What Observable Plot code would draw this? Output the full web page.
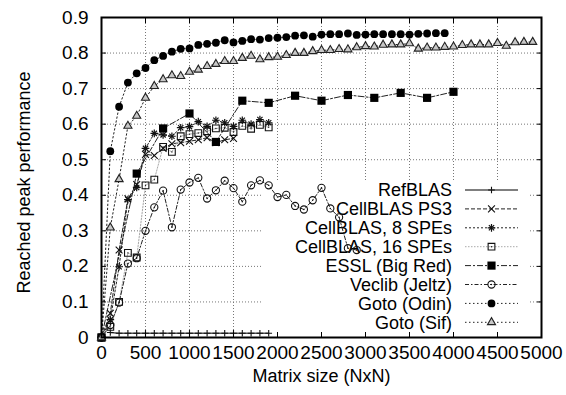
<!DOCTYPE html>
<html><head><meta charset="utf-8">
<script src="https://cdn.jsdelivr.net/npm/d3@7"></script>
<script src="https://cdn.jsdelivr.net/npm/@observablehq/plot@0.6"></script>
<style>
html,body{margin:0;padding:0;background:#fff;}
#chart{width:566px;height:395px;}
</style></head><body><div id="chart"></div>
<script>
// ---- data ----
const seriesNames = ["RefBLAS","CellBLAS PS3","CellBLAS, 8 SPEs","CellBLAS, 16 SPEs","ESSL (Big Red)","Veclib (Jeltz)","Goto (Odin)","Goto (Sif)"];

const refSize = [100,200,300,400,500,600,700,800,900,1000,1100,1200,1300,1400,1500,1600,1700,1800,1900];
const refPerf = [0.014,0.012,0.012,0.012,0.012,0.012,0.012,0.012,0.012,0.012,0.012,0.012,0.012,0.012,0.012,0.012,0.012,0.012,0.012];

const ps3Size = [0,100,200,300,400,500,600,700,800,900,1000,1100,1200,1300,1400,1500];
const ps3Perf = [0,0.068,0.246,0.39,0.43,0.515,0.512,0.532,0.545,0.548,0.552,0.556,0.562,0.548,0.556,0.56];

const spe8Size = [0,100,200,300,400,500,600,700,800,900,1000,1100,1200,1300,1400,1500,1600,1700,1800,1900];
const spe8Perf = [0,0.05,0.199,0.388,0.422,0.532,0.574,0.570,0.566,0.590,0.593,0.607,0.594,0.611,0.604,0.594,0.611,0.600,0.613,0.604];

const spe16Size = [0,100,200,300,400,500,600,700,800,900,1000,1100,1200,1300,1400,1500,1600,1700,1800,1900];
const spe16Perf = [0,0.03,0.10,0.238,0.225,0.428,0.444,0.536,0.522,0.566,0.572,0.575,0.580,0.588,0.590,0.578,0.595,0.587,0.598,0.591];

const esslSize = [0,400,700,1000,1300,1600,1900,2200,2500,2800,3100,3400,3700,4000];
const esslPerf = [0,0.461,0.588,0.630,0.550,0.666,0.660,0.680,0.666,0.682,0.674,0.688,0.674,0.691];

const veclibSize = [0,100,200,300,400,500,600,700,800,900,1000,1100,1200,1300,1400,1500,1600,1700,1800,1900,2000,2100,2200,2300,2400,2500,2600,2700,2800,2900];
const veclibPerf = [0,0.035,0.098,0.208,0.223,0.300,0.366,0.413,0.310,0.416,0.436,0.449,0.391,0.414,0.441,0.420,0.382,0.428,0.442,0.428,0.395,0.401,0.370,0.360,0.386,0.421,0.363,0.338,0.251,0.246];

const odinSize = [0,100,200,300,400,500,600,700,800,900,1000,1100,1200,1300,1400,1500,1600,1700,1800,1900,2000,2100,2200,2300,2400,2500,2600,2700,2800,2900,3000,3100,3200,3300,3400,3500,3600,3700,3800,3900];
const odinPerf = [0,0.524,0.649,0.717,0.743,0.758,0.780,0.792,0.804,0.812,0.813,0.823,0.826,0.829,0.836,0.830,0.834,0.839,0.838,0.842,0.843,0.845,0.849,0.850,0.846,0.852,0.853,0.853,0.855,0.851,0.852,0.853,0.853,0.853,0.853,0.852,0.854,0.855,0.856,0.856];

const sifSize = [0,100,200,300,400,500,600,700,800,900,1000,1100,1200,1300,1400,1500,1600,1700,1800,1900,2000,2100,2200,2300,2400,2500,2600,2700,2800,2900,3000,3100,3200,3300,3400,3500,3600,3700,3800,3900,4000,4100,4200,4300,4400,4500,4600,4700,4800,4900];
const sifPerf = [0,0.309,0.445,0.595,0.623,0.674,0.707,0.726,0.737,0.735,0.747,0.753,0.763,0.769,0.777,0.777,0.786,0.792,0.782,0.788,0.789,0.794,0.800,0.800,0.805,0.808,0.808,0.811,0.810,0.816,0.819,0.818,0.823,0.824,0.824,0.827,0.812,0.815,0.815,0.817,0.818,0.822,0.824,0.824,0.824,0.828,0.820,0.830,0.831,0.831];

const xTicks = [0,500,1000,1500,2000,2500,3000,3500,4000,4500,5000];
const yTicks = [0,0.1,0.2,0.3,0.4,0.5,0.6,0.7,0.8,0.9];
const yTickLabels = ["0","0.1","0.2","0.3","0.4","0.5","0.6","0.7","0.8","0.9"];
const xLabel = "Matrix size (NxN)";
const yLabel = "Reached peak performance";

// ---- build tables ----
const rows = (name, sizes, perfs) => sizes.map((s, i) => ({series: name, size: s, perf: perfs[i]}));
const tables = [
  rows(seriesNames[0], refSize, refPerf),
  rows(seriesNames[1], ps3Size, ps3Perf),
  rows(seriesNames[2], spe8Size, spe8Perf),
  rows(seriesNames[3], spe16Size, spe16Perf),
  rows(seriesNames[4], esslSize, esslPerf),
  rows(seriesNames[5], veclibSize, veclibPerf),
  rows(seriesNames[6], odinSize, odinPerf),
  rows(seriesNames[7], sifSize, sifPerf)
];

// ---- styles ----
const styles = [
  {line: {stroke: "#555", strokeWidth: 1.4}, markers: [{symbol: "plus", r: 2.3, fill: "none", stroke: "#111", strokeWidth: 1.1}]},
  {line: {stroke: "#222", strokeWidth: 1, strokeDasharray: "4,2"}, markers: [{symbol: "times", r: 3.2, fill: "none", stroke: "#111", strokeWidth: 1.1}]},
  {line: {stroke: "#222", strokeWidth: 1, strokeDasharray: "2,2"}, markers: [{symbol: "plus", r: 2.6, fill: "none", stroke: "#111", strokeWidth: 1.2}, {symbol: "times", r: 2.5, fill: "none", stroke: "#111", strokeWidth: 1.2}]},
  {line: {stroke: "#aaa", strokeWidth: 1, strokeDasharray: "1.5,1.5"}, markers: [{symbol: "square", r: 3.8, fill: "none", stroke: "#111", strokeWidth: 1.1}, {symbol: "circle", r: 0.7, fill: "#111", stroke: "none"}]},
  {line: {stroke: "#222", strokeWidth: 1, strokeDasharray: "6,2,2,2"}, markers: [{symbol: "square", r: 4.6, fill: "#000", stroke: "none"}]},
  {line: {stroke: "#222", strokeWidth: 1, strokeDasharray: "4,2,1.5,2"}, markers: [{symbol: "circle", r: 3.6, fill: "none", stroke: "#111", strokeWidth: 1.1}, {symbol: "circle", r: 0.7, fill: "#111", stroke: "none"}]},
  {line: {stroke: "#222", strokeWidth: 1, strokeDasharray: "1.5,2.5"}, markers: [{symbol: "circle", r: 3.9, fill: "#000", stroke: "none"}]},
  {line: {stroke: "#222", strokeWidth: 1, strokeDasharray: "1.5,2.5"}, markers: [{symbol: "triangle", r: 3.0, fill: "#c8c8c8", stroke: "#222", strokeWidth: 1.1}]}
];

const d3Sym = {plus: d3.symbolPlus, times: d3.symbolTimes, square: d3.symbolSquare, circle: d3.symbolCircle, triangle: d3.symbolTriangle};
const font = "'Liberation Sans', Arial, sans-serif";

// ---- legend (key box, as in gnuplot, drawn above grid but below data) ----
function legendMark(index, scales, values, dims) {
  const right = dims.width - dims.marginRight;
  const top = dims.marginTop;
  const bottom = dims.height - dims.marginBottom;
  const rowH = 18.9;
  const firstRow = top + 173;
  const g = d3.create("svg:g");
  g.append("rect")
    .attr("x", right - 279).attr("y", firstRow - 10)
    .attr("width", 268).attr("height", bottom - (firstRow - 10))
    .attr("fill", "white");
  seriesNames.forEach((name, i) => {
    const y = firstRow + i * rowH;
    g.append("text")
      .attr("x", right - 89).attr("y", y).attr("dy", "0.36em")
      .attr("text-anchor", "end")
      .attr("font-family", font)
      .attr("font-size", 18).attr("fill", "#000")
      .text(name);
    const st = styles[i];
    g.append("line")
      .attr("x1", right - 76).attr("x2", right - 23).attr("y1", y).attr("y2", y)
      .attr("stroke", st.line.stroke).attr("stroke-width", st.line.strokeWidth)
      .attr("stroke-dasharray", st.line.strokeDasharray || null);
    st.markers.forEach(m => {
      g.append("path")
        .attr("transform", `translate(${right - 49.5},${y})`)
        .attr("d", d3.symbol().type(d3Sym[m.symbol]).size(Math.PI * m.r * m.r)())
        .attr("fill", m.fill).attr("stroke", m.stroke)
        .attr("stroke-width", m.strokeWidth || null);
    });
  });
  return g.node();
}

const seriesMarks = [];
tables.forEach((t, i) => {
  seriesMarks.push(Plot.line(t, {x: "size", y: "perf", ...styles[i].line}));
});
tables.forEach((t, i) => {
  styles[i].markers.forEach(m => {
    seriesMarks.push(Plot.dot(t, {x: "size", y: "perf", ...m}));
  });
});

const chart = Plot.plot({
  width: 566, height: 395,
  marginLeft: 101, marginRight: 25, marginTop: 17, marginBottom: 58,
  style: {fontFamily: font, fontSize: "18px", background: "white", color: "black", overflow: "visible"},
  x: {domain: [0, 5000], label: null},
  y: {domain: [0, 0.9], label: null},
  marks: [
    Plot.gridY(yTicks.slice(1, -1), {stroke: "#777", strokeOpacity: 1, strokeDasharray: "1,2"}),
    Plot.gridX(xTicks.slice(1, -1), {stroke: "#777", strokeOpacity: 1, strokeDasharray: "1,2"}),
    legendMark,
    ...seriesMarks,
    Plot.frame({stroke: "#000", strokeWidth: 2}),
    Plot.axisY(yTicks, {anchor: "left", tickSize: -5, tickFormat: () => "", label: null, stroke: "#000"}),
    Plot.axisY(yTicks, {anchor: "right", tickSize: -5, tickFormat: () => "", label: null, stroke: "#000"}),
    Plot.axisX(xTicks, {anchor: "bottom", tickSize: -5, tickFormat: () => "", label: null, stroke: "#000"}),
    Plot.axisX(xTicks, {anchor: "top", tickSize: -5, tickFormat: () => "", label: null, stroke: "#000"}),
    Plot.axisY(yTicks, {anchor: "left", tickSize: 0, tickPadding: 13, tickFormat: (d, i) => yTickLabels[i], label: null, fontSize: 19, fill: "#000"}),
    Plot.axisX(xTicks, {anchor: "bottom", tickSize: 0, tickPadding: 8, tickFormat: d => String(d), label: null, fontSize: 19, fill: "#000"}),
    Plot.text([xLabel], {text: d => d, frameAnchor: "bottom", textAnchor: "middle", dy: 44, fontSize: 18, fill: "#000"}),
    Plot.text([yLabel], {text: d => d, frameAnchor: "left", textAnchor: "middle", rotate: -90, dx: -77, dy: 5, fontSize: 18, fill: "#000"})
  ]
});
document.getElementById("chart").appendChild(chart);
</script>
</body></html>
